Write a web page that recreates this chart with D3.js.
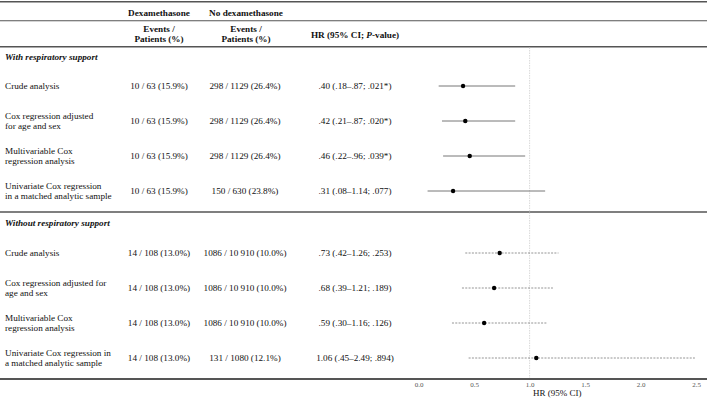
<!DOCTYPE html>
<html><head><meta charset="utf-8">
<script src="https://cdn.jsdelivr.net/npm/d3@7"></script>
<style>
html,body{margin:0;padding:0;background:#fff;}
svg{display:block;font-family:"Liberation Serif","Times New Roman",serif;}
</style></head>
<body><svg id="c" width="709" height="400"></svg>
<script>
const sections = ["With respiratory support", "Without respiratory support"];
const labels = [
  ["Crude analysis"],
  ["Cox regression adjusted", "for age and sex"],
  ["Multivariable Cox", "regression analysis"],
  ["Univariate Cox regression", "in a matched analytic sample"],
  ["Crude analysis"],
  ["Cox regression adjusted for", "age and sex"],
  ["Multivariable Cox", "regression analysis"],
  ["Univariate Cox regression in", "a matched analytic sample"]
];
const sectionOf = [0,0,0,0,1,1,1,1];
const dexa = ["10 / 63 (15.9%)","10 / 63 (15.9%)","10 / 63 (15.9%)","10 / 63 (15.9%)",
              "14 / 108 (13.0%)","14 / 108 (13.0%)","14 / 108 (13.0%)","14 / 108 (13.0%)"];
const noDexa = ["298 / 1129 (26.4%)","298 / 1129 (26.4%)","298 / 1129 (26.4%)","150 / 630 (23.8%)",
                "1086 / 10 910 (10.0%)","1086 / 10 910 (10.0%)","1086 / 10 910 (10.0%)","131 / 1080 (12.1%)"];
const hr    = [0.40, 0.42, 0.46, 0.31, 0.73, 0.68, 0.59, 1.06];
const lower = [0.18, 0.21, 0.22, 0.08, 0.42, 0.39, 0.30, 0.45];
const upper = [0.87, 0.87, 0.96, 1.14, 1.26, 1.21, 1.16, 2.49];
const pval  = [".021*", ".020*", ".039*", ".077", ".253", ".189", ".126", ".894"];
const xTicks = [0, 0.5, 1.0, 1.5, 2.0, 2.5];

function fmt(v){ const s = v.toFixed(2); return v < 1 ? s.replace(/^0/, "") : s; }

const svg = d3.select("#c");
const x = d3.scaleLinear().domain([0, 2.5]).range([418.7, 696]);
const rowY = d3.scaleLinear().domain([0, 3]).range([0, 105]);
const secTop = [86, 253];
const secHead = [57, 223];
const yOf = i => secTop[sectionOf[i]] + rowY(i - sectionOf[i]*4);

const ink = "#111";
const fs = 9.2;

// Rules
const rules = [{y:1.7,w:1.6},{y:20.7,w:1.1},{y:46.7,w:1.6},{y:212,w:1.6},{y:379,w:1.8}];
svg.selectAll("line.rule").data(rules).join("line").attr("class","rule")
  .attr("x1",0).attr("x2",707).attr("y1",d=>d.y).attr("y2",d=>d.y)
  .attr("stroke","#555").attr("stroke-width",d=>d.w);

// Reference line at HR = 1
svg.append("line").attr("x1",x(1)).attr("x2",x(1)).attr("y1",47.5).attr("y2",378)
  .attr("stroke","#cfcfcf").attr("stroke-width",0.8).attr("stroke-dasharray","1.5,1");

// Column headers
const head = svg.append("g").attr("font-weight","bold").attr("font-size",fs).attr("fill",ink).attr("text-anchor","middle");
head.append("text").attr("x",159).attr("y",15.5).text("Dexamethasone");
head.append("text").attr("x",246).attr("y",15.5).text("No dexamethasone");
[159, 246].forEach(cx=>{
  head.append("text").attr("x",cx).attr("y",32).text("Events /");
  head.append("text").attr("x",cx).attr("y",42.3).text("Patients (%)");
});
const hrh = head.append("text").attr("x",355).attr("y",38);
hrh.append("tspan").text("HR (95% CI; ");
hrh.append("tspan").attr("font-style","italic").text("P");
hrh.append("tspan").text("-value)");

// Section headers
svg.selectAll("text.sec").data(sections).join("text").attr("class","sec")
  .attr("x",5).attr("y",(d,i)=>secHead[i]+3).attr("font-size",fs)
  .attr("font-weight","bold").attr("font-style","italic").attr("fill",ink).text(d=>d);

// Row labels
const idx = d3.range(hr.length);
const lab = svg.selectAll("text.lab").data(idx).join("text").attr("class","lab")
  .attr("font-size",fs).attr("fill",ink);
lab.each(function(i){
  const t = d3.select(this);
  const L = labels[i];
  const y0 = yOf(i) + 3 - (L.length-1)*5.2;
  L.forEach((s,k)=> t.append("tspan").attr("x",5).attr("y",y0 + k*10.4).text(s));
});

// Data columns
svg.selectAll("text.dx").data(idx).join("text").attr("class","dx")
  .attr("x",159).attr("y",i=>yOf(i)+3).attr("text-anchor","middle").attr("font-size",fs).attr("fill",ink)
  .text(i=>dexa[i]);
svg.selectAll("text.nd").data(idx).join("text").attr("class","nd")
  .attr("x",245).attr("y",i=>yOf(i)+3).attr("text-anchor","middle").attr("font-size",fs).attr("fill",ink)
  .text(i=>noDexa[i]);
svg.selectAll("text.hr").data(idx).join("text").attr("class","hr")
  .attr("x",355).attr("y",i=>yOf(i)+3).attr("text-anchor","middle").attr("font-size",fs).attr("fill",ink)
  .text(i=>`${fmt(hr[i])} (${fmt(lower[i])}\u2013${fmt(upper[i])}; ${pval[i]})`);

// CI lines
svg.selectAll("line.ci").data(idx).join("line").attr("class","ci")
  .attr("x1",i=>x(lower[i])).attr("x2",i=>x(upper[i]))
  .attr("y1",yOf).attr("y2",yOf)
  .attr("stroke",i=>sectionOf[i]===0?"#777":"#888")
  .attr("stroke-width",i=>sectionOf[i]===0?1:0.9)
  .attr("stroke-dasharray",i=>sectionOf[i]===0?null:"2,1.3");
svg.selectAll("circle.pt").data(idx).join("circle").attr("class","pt")
  .attr("cx",i=>x(hr[i])).attr("cy",yOf).attr("r",2.2).attr("fill","#000");

// Axis
const ax = svg.append("g").attr("transform","translate(0,379)")
  .call(d3.axisBottom(x).tickValues(xTicks).tickFormat(d3.format(".1f")).tickSize(0).tickPadding(3));
ax.select(".domain").remove();
ax.selectAll("text").attr("font-family","Liberation Serif, serif").attr("font-size",7).attr("fill","#555");
svg.append("text").attr("x",(x(0)+x(2.5))/2).attr("y",396).attr("text-anchor","middle")
  .attr("font-size",9).attr("fill",ink).text("HR (95% CI)");
</script></body></html>
